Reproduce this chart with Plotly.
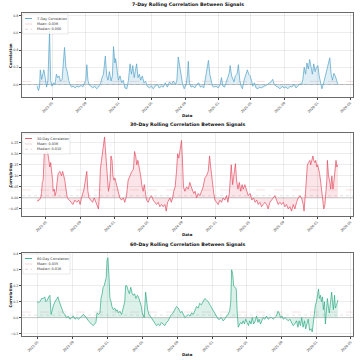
import plotly.graph_objects as go
import pandas as pd

# ---------------- data ----------------
d7_dates = ["2023-03-07","2023-03-12","2023-03-16","2023-03-19","2023-03-24","2023-03-28","2023-04-01","2023-04-06","2023-04-11","2023-04-16",
"2023-04-22","2023-04-26","2023-05-01","2023-05-07","2023-05-12","2023-05-17","2023-05-22","2023-05-27","2023-06-01","2023-06-07",
"2023-06-12","2023-06-16","2023-06-21","2023-06-26","2023-07-01","2023-07-06","2023-07-12","2023-07-18","2023-07-25","2023-08-01",
"2023-08-08","2023-08-16","2023-08-22","2023-08-28","2023-09-02","2023-09-06","2023-09-10","2023-09-14","2023-09-20","2023-09-28",
"2023-10-05","2023-10-12","2023-10-19","2023-10-27","2023-11-01","2023-11-06","2023-11-13","2023-11-18","2023-11-23","2023-11-28",
"2023-12-04","2023-12-09","2023-12-13","2023-12-18","2023-12-21","2023-12-26","2023-12-31","2024-01-06","2024-01-12","2024-01-18",
"2024-01-24","2024-01-31","2024-02-06","2024-02-12","2024-02-17","2024-02-22","2024-02-27","2024-03-02","2024-03-07","2024-03-12",
"2024-03-17","2024-03-22","2024-03-28","2024-04-03","2024-04-09","2024-04-15","2024-04-23","2024-04-30","2024-05-07","2024-05-14",
"2024-05-22","2024-05-29","2024-06-06","2024-06-13","2024-06-20","2024-06-28","2024-07-06","2024-07-13","2024-07-20","2024-07-28",
"2024-08-02","2024-08-07","2024-08-12","2024-08-17","2024-08-23","2024-08-29","2024-09-05","2024-09-10","2024-09-13","2024-09-17",
"2024-09-23","2024-09-30","2024-10-07","2024-10-14","2024-10-21","2024-10-27","2024-11-02","2024-11-09","2024-11-16","2024-11-21",
"2024-11-26","2024-12-01","2024-12-06","2024-12-11","2024-12-17","2024-12-24","2025-01-01","2025-01-08","2025-01-13","2025-01-18",
"2025-01-24","2025-01-30","2025-02-05","2025-02-10","2025-02-14","2025-02-19","2025-02-24","2025-02-28","2025-03-05","2025-03-11",
"2025-03-16","2025-03-21","2025-03-26","2025-03-31","2025-04-06","2025-04-12","2025-04-18","2025-04-23","2025-04-28","2025-05-03",
"2025-05-08","2025-05-14","2025-05-20","2025-05-27","2025-06-01","2025-06-08","2025-06-15","2025-06-23","2025-07-01","2025-07-08",
"2025-07-14","2025-07-20","2025-07-26","2025-08-02","2025-08-09","2025-08-16","2025-08-24","2025-08-31","2025-09-07","2025-09-14",
"2025-09-22","2025-09-29","2025-10-07","2025-10-14","2025-10-21","2025-10-28","2025-11-03","2025-11-08","2025-11-13","2025-11-18",
"2025-11-23","2025-11-28","2025-12-03","2025-12-08","2025-12-13","2025-12-18","2025-12-23","2025-12-28","2026-01-02","2026-01-07",
"2026-01-12","2026-01-17","2026-01-22","2026-01-27","2026-01-31","2026-02-05","2026-02-10","2026-02-15","2026-02-20","2026-02-25",
"2026-03-02","2026-03-07","2026-03-12","2026-03-17"]
d7_vals = [-0.02,-0.07,-0.03,0.17,0.06,0.12,0.17,0.08,-0.03,0.05,
0.62,0.05,-0.02,0.02,0.0,0.12,0.08,0.10,0.04,0.06,
0.25,0.43,0.20,0.15,0.05,0.0,-0.03,-0.02,-0.04,-0.02,
-0.03,-0.01,-0.03,0.02,0.05,0.23,0.05,0.0,-0.02,-0.04,
-0.02,-0.05,-0.03,0.02,0.08,0.12,0.33,0.10,0.05,0.15,
0.04,0.10,0.44,0.25,0.30,0.15,0.05,0.10,0.02,0.05,
-0.04,-0.05,0.05,0.24,0.12,0.22,0.08,0.15,0.24,0.08,
0.12,0.05,0.10,0.02,0.04,-0.02,-0.04,-0.02,-0.05,-0.02,
0.0,-0.04,-0.02,-0.03,0.02,-0.03,0.03,0.0,0.04,0.0,
0.05,0.32,0.22,0.12,0.0,-0.05,0.0,0.12,0.27,0.02,
-0.03,-0.02,-0.04,0.0,0.02,-0.03,-0.02,-0.04,0.08,0.20,
0.28,0.12,0.05,-0.02,-0.03,-0.02,-0.04,0.0,0.08,-0.02,
-0.03,0.04,0.08,0.13,0.22,0.10,0.05,0.03,0.10,0.12,
0.23,0.05,-0.02,-0.05,0.05,0.10,0.17,0.12,0.10,0.05,
-0.02,0.02,-0.04,-0.05,-0.03,-0.04,-0.03,-0.02,0.0,0.02,
0.03,0.06,0.0,-0.02,-0.03,-0.05,-0.02,-0.04,-0.03,-0.05,
-0.02,-0.03,0.0,-0.04,-0.02,0.01,0.0,0.06,0.20,0.12,
0.25,0.18,0.29,0.20,0.12,0.24,0.15,0.20,0.22,0.10,
0.03,-0.05,0.0,0.06,0.10,0.18,0.25,0.31,0.12,0.05,
0.13,0.10,0.05,0.0]

d30_dates = ["2023-03-30","2023-04-07","2023-04-12","2023-04-15","2023-04-18","2023-04-21","2023-04-25","2023-04-30","2023-05-05","2023-05-08",
"2023-05-12","2023-05-15","2023-05-18","2023-05-21","2023-05-25","2023-05-27","2023-05-31","2023-06-03","2023-06-07","2023-06-10",
"2023-06-14","2023-06-20","2023-06-26","2023-06-30","2023-07-05","2023-07-08","2023-07-12","2023-07-17","2023-07-24","2023-07-29",
"2023-08-06","2023-08-13","2023-08-20","2023-08-27","2023-09-01","2023-09-06","2023-09-11","2023-09-15","2023-09-20","2023-09-25",
"2023-09-29","2023-10-03","2023-10-09","2023-10-16","2023-10-22","2023-10-27","2023-11-01","2023-11-06","2023-11-09","2023-11-13",
"2023-11-17","2023-11-20","2023-11-24","2023-11-28","2023-12-01","2023-12-05","2023-12-08","2023-12-12","2023-12-15","2023-12-18",
"2023-12-21","2023-12-25","2023-12-28","2024-01-01","2024-01-04","2024-01-08","2024-01-12","2024-01-16","2024-01-22","2024-01-28",
"2024-02-03","2024-02-09","2024-02-15","2024-02-21","2024-02-27","2024-03-05","2024-03-11","2024-03-15","2024-03-19","2024-03-23",
"2024-03-27","2024-04-01","2024-04-06","2024-04-11","2024-04-15","2024-04-19","2024-04-23","2024-04-27","2024-05-03","2024-05-09",
"2024-05-15","2024-05-21","2024-05-27","2024-06-02","2024-06-08","2024-06-14","2024-06-20","2024-06-26","2024-07-02","2024-07-07",
"2024-07-12","2024-07-17","2024-07-20","2024-07-25","2024-07-30","2024-08-03","2024-08-08","2024-08-13","2024-08-17","2024-08-21",
"2024-08-26","2024-08-31","2024-09-03","2024-09-07","2024-09-12","2024-09-18","2024-09-24","2024-09-30","2024-10-05","2024-10-09",
"2024-10-14","2024-10-19","2024-10-24","2024-10-30","2024-11-05","2024-11-11","2024-11-17","2024-11-23","2024-11-29","2024-12-05",
"2024-12-10","2024-12-13","2024-12-17","2024-12-21","2024-12-25","2024-12-29","2025-01-04","2025-01-10","2025-01-16","2025-01-22",
"2025-01-28","2025-02-03","2025-02-09","2025-02-14","2025-02-19","2025-02-21","2025-02-26","2025-03-03","2025-03-08","2025-03-13",
"2025-03-17","2025-03-22","2025-03-27","2025-04-01","2025-04-06","2025-04-10","2025-04-16","2025-04-22","2025-04-28","2025-05-05",
"2025-05-11","2025-05-17","2025-05-23","2025-05-29","2025-06-03","2025-06-09","2025-06-15","2025-06-21","2025-06-27","2025-07-03",
"2025-07-09","2025-07-15","2025-07-21","2025-07-27","2025-08-02","2025-08-08","2025-08-14","2025-08-20","2025-08-26","2025-09-01",
"2025-09-07","2025-09-13","2025-09-19","2025-09-25","2025-10-01","2025-10-07","2025-10-13","2025-10-19","2025-10-25","2025-10-31",
"2025-11-06","2025-11-12","2025-11-15","2025-11-20","2025-11-24","2025-11-27","2025-12-01","2025-12-06","2025-12-09","2025-12-13",
"2025-12-17","2025-12-20","2025-12-24","2025-12-27","2025-12-31","2026-01-03","2026-01-07","2026-01-10","2026-01-14","2026-01-18",
"2026-01-21","2026-01-25","2026-01-29","2026-02-01","2026-02-05","2026-02-07","2026-02-11","2026-02-16","2026-02-19","2026-02-23",
"2026-02-27","2026-03-02","2026-03-06","2026-03-10","2026-03-13","2026-03-17"]
d30_vals = [-0.014,-0.01,0.0,0.02,0.07,0.08,0.20,0.205,0.21,0.20,
0.17,0.14,0.16,0.13,0.08,0.03,0.04,0.01,0.03,0.07,
0.11,0.12,0.10,0.12,0.10,0.08,0.04,0.0,-0.01,-0.02,
-0.03,-0.01,-0.02,-0.01,-0.03,0.0,0.02,0.04,0.08,0.12,
0.03,0.0,-0.01,-0.02,0.0,-0.02,-0.03,-0.05,0.0,0.13,
0.17,0.20,0.24,0.276,0.22,0.15,0.08,0.03,0.05,0.08,
0.19,0.17,0.10,0.08,0.09,0.07,0.05,0.02,0.0,-0.01,
0.0,-0.02,0.01,0.08,0.10,0.12,0.13,0.21,0.19,0.15,
0.17,0.14,0.10,0.05,0.03,0.06,0.02,-0.01,-0.02,0.0,
0.01,-0.01,-0.02,-0.03,-0.02,-0.04,-0.03,-0.04,-0.03,-0.06,
-0.02,-0.01,0.0,-0.02,0.0,0.03,0.05,0.12,0.20,0.18,
0.22,0.26,0.18,0.05,0.03,0.05,0.04,0.07,0.05,0.04,
0.02,0.03,0.0,0.02,0.01,0.03,0.05,0.09,0.10,0.12,
0.19,0.15,0.10,0.07,0.02,-0.01,-0.02,-0.03,-0.01,-0.02,
0.0,-0.01,0.01,-0.02,0.02,0.05,0.15,0.06,0.10,0.155,
0.08,0.04,0.07,0.03,0.06,0.04,0.06,0.03,0.01,0.02,
-0.01,0.0,-0.02,-0.01,-0.03,-0.02,-0.04,-0.03,-0.02,-0.03,
-0.05,-0.02,-0.01,0.0,0.01,-0.01,-0.03,-0.02,-0.03,-0.02,
-0.04,-0.03,-0.05,-0.04,-0.06,-0.03,-0.05,-0.02,0.0,0.01,
0.0,-0.03,-0.06,0.02,0.14,0.15,0.16,0.17,0.15,0.18,
0.19,0.17,0.16,0.17,0.14,0.15,0.13,0.11,0.07,0.03,
-0.02,-0.05,-0.03,0.02,0.08,0.17,0.10,0.07,0.04,0.10,
0.04,0.07,0.12,0.17,0.14,0.15]

d60_dates = ["2023-04-29","2023-05-03","2023-05-09","2023-05-15","2023-05-21","2023-05-26","2023-05-30","2023-06-04","2023-06-09","2023-06-13",
"2023-06-17","2023-06-21","2023-06-26","2023-07-01","2023-07-07","2023-07-11","2023-07-16","2023-07-21","2023-07-25","2023-07-30",
"2023-08-04","2023-08-10","2023-08-16","2023-08-22","2023-08-28","2023-09-03","2023-09-09","2023-09-15","2023-09-21","2023-09-26",
"2023-10-02","2023-10-08","2023-10-14","2023-10-20","2023-10-26","2023-10-31","2023-11-05","2023-11-11","2023-11-17","2023-11-21",
"2023-11-25","2023-12-01","2023-12-05","2023-12-09","2023-12-13","2023-12-16","2023-12-20","2023-12-23","2023-12-27","2023-12-30",
"2024-01-02","2024-01-06","2024-01-09","2024-01-13","2024-01-16","2024-01-21","2024-01-26","2024-01-30","2024-02-03","2024-02-08",
"2024-02-13","2024-02-19","2024-02-24","2024-03-01","2024-03-04","2024-03-08","2024-03-13","2024-03-17","2024-03-22","2024-03-27",
"2024-03-31","2024-04-04","2024-04-09","2024-04-14","2024-04-18","2024-04-23","2024-04-28","2024-05-01","2024-05-05","2024-05-08",
"2024-05-13","2024-05-16","2024-05-20","2024-05-25","2024-05-29","2024-06-03","2024-06-09","2024-06-15","2024-06-20","2024-06-26",
"2024-07-02","2024-07-07","2024-07-13","2024-07-19","2024-07-25","2024-07-31","2024-08-05","2024-08-11","2024-08-17","2024-08-23",
"2024-08-29","2024-09-04","2024-09-08","2024-09-12","2024-09-17","2024-09-22","2024-09-27","2024-10-03","2024-10-09","2024-10-15",
"2024-10-21","2024-10-27","2024-11-01","2024-11-07","2024-11-13","2024-11-18","2024-11-24","2024-12-01","2024-12-06","2024-12-12",
"2024-12-18","2024-12-24","2024-12-30","2025-01-04","2025-01-10","2025-01-16","2025-01-22","2025-01-27","2025-02-02","2025-02-08",
"2025-02-14","2025-02-20","2025-02-25","2025-03-03","2025-03-07","2025-03-10","2025-03-14","2025-03-17","2025-03-22","2025-03-26",
"2025-03-29","2025-04-02","2025-04-05","2025-04-10","2025-04-15","2025-04-19","2025-04-24","2025-04-28","2025-05-03","2025-05-08",
"2025-05-12","2025-05-17","2025-05-21","2025-05-26","2025-06-01","2025-06-05","2025-06-10","2025-06-14","2025-06-19","2025-06-24",
"2025-06-28","2025-07-04","2025-07-10","2025-07-16","2025-07-22","2025-07-28","2025-08-02","2025-08-08","2025-08-14","2025-08-19",
"2025-08-23","2025-08-28","2025-09-02","2025-09-07","2025-09-13","2025-09-19","2025-09-24","2025-09-30","2025-10-06","2025-10-11",
"2025-10-17","2025-10-23","2025-10-28","2025-11-01","2025-11-06","2025-11-10","2025-11-15","2025-11-20","2025-11-24","2025-11-29",
"2025-12-03","2025-12-08","2025-12-13","2025-12-17","2025-12-21","2025-12-24","2025-12-28","2026-01-01","2026-01-04","2026-01-08",
"2026-01-11","2026-01-15","2026-01-18","2026-01-22","2026-01-25","2026-01-29","2026-02-01","2026-02-05","2026-02-08","2026-02-12",
"2026-02-15","2026-02-19","2026-02-23","2026-02-26","2026-03-01","2026-03-05","2026-03-08","2026-03-12","2026-03-17"]
d60_vals = [0.10,0.095,0.10,0.12,0.12,0.13,0.10,0.11,0.13,0.14,
0.02,0.05,0.08,0.10,0.12,0.13,0.10,0.07,0.05,0.03,
0.02,0.0,0.01,-0.01,0.0,0.01,-0.01,0.0,-0.01,0.0,
0.01,0.02,0.01,-0.01,-0.02,-0.03,-0.04,-0.05,-0.04,-0.03,
0.03,0.02,0.03,0.12,0.15,0.19,0.20,0.22,0.25,0.36,
0.375,0.25,0.12,0.10,0.07,0.05,0.06,0.04,0.05,0.03,
0.04,0.02,0.05,0.10,0.20,0.20,0.17,0.15,0.19,0.15,
0.14,0.15,0.12,0.14,0.13,0.10,0.07,0.03,0.01,0.0,
0.16,0.10,0.05,0.02,0.01,-0.01,-0.02,-0.04,-0.05,-0.04,
-0.05,-0.03,-0.04,-0.05,-0.03,-0.02,0.0,0.02,0.03,0.05,
0.07,0.06,0.04,0.03,0.04,0.02,0.0,0.01,0.02,0.01,
0.03,0.02,0.05,0.07,0.06,0.09,0.08,0.10,0.12,0.11,
0.10,0.08,0.06,0.04,0.02,0.0,-0.01,-0.01,0.0,-0.02,
-0.01,0.01,0.02,0.04,0.10,0.30,0.27,0.20,0.19,0.18,
0.05,-0.06,-0.05,-0.03,-0.04,-0.02,-0.04,-0.01,-0.03,-0.05,
-0.02,-0.04,0.0,-0.04,-0.02,0.01,-0.03,-0.01,-0.04,-0.02,
0.0,-0.01,0.01,-0.01,0.0,0.0,-0.01,0.0,0.01,0.04,
0.03,0.0,0.01,-0.01,0.0,-0.01,-0.02,-0.01,-0.03,-0.05,
-0.04,-0.02,-0.06,-0.02,-0.05,0.0,-0.06,-0.02,-0.07,-0.03,
-0.01,-0.08,-0.07,-0.09,-0.02,0.02,0.08,0.10,0.13,0.18,
0.12,0.14,0.10,0.13,0.05,0.10,-0.04,0.05,0.12,0.06,
0.03,0.10,0.16,0.10,0.05,0.14,0.06,0.08,0.11]

titles = ["7-Day Rolling Correlation Between Signals",
          "30-Day Rolling Correlation Between Signals",
          "60-Day Rolling Correlation Between Signals"]
series_names = ["7-Day Correlation", "30-Day Correlation", "60-Day Correlation"]
means = [0.036, 0.036, 0.035]
medians = [0.000, 0.010, 0.016]
tick_dates = ["2023-05-01","2023-09-01","2024-01-01","2024-05-01","2024-09-01",
              "2025-01-01","2025-05-01","2025-09-01","2026-01-01","2026-05-01"]
tick_labels = ["2023-05","2023-09","2024-01","2024-05","2024-09",
               "2025-01","2025-05","2025-09","2026-01","2026-05"]
y_ticks = [[0.0, 0.2, 0.4, 0.6, 0.8],
           [-0.05, 0.0, 0.05, 0.10, 0.15, 0.20, 0.25],
           [-0.1, 0.0, 0.1, 0.2, 0.3, 0.4]]
y_tick_text = [["0.0", "0.2", "0.4", "0.6", "0.8"],
               ["−0.05", "0.00", "0.05", "0.10", "0.15", "0.20", "0.25"],
               ["−0.1", "0.0", "0.1", "0.2", "0.3", "0.4"]]
y_ranges = [[-0.145, 0.83], [-0.082, 0.294], [-0.115, 0.405]]

# ---------------- styling ----------------
line_colors = ["#52a2c8", "#e2495e", "#2aa982"]
fill_colors = ["rgba(82,162,200,0.18)", "rgba(226,73,94,0.14)", "rgba(42,169,130,0.16)"]
mean_color = "rgba(225,110,110,0.35)"
median_color = "rgba(130,130,130,0.35)"
FONT = "DejaVu Sans"

W, H = 360, 360
ML, MR, MT, MB = 22, 7, 13, 24
plot_w = W - ML - MR
plot_h = H - MT - MB
panels_px = [(13, 97), (133, 216), (253, 336)]   # top, bottom pixel rows

fig = go.Figure()
all_data = [(d7_dates, d7_vals), (d30_dates, d30_vals), (d60_dates, d60_vals)]

layout = dict(width=W, height=H, margin=dict(l=ML, r=MR, t=MT, b=MB, autoexpand=False),
              paper_bgcolor="white", plot_bgcolor="white", showlegend=False,
              font=dict(family=FONT, size=3.4, color="#222"))
shapes, annotations = [], []

for i, (dates, vals) in enumerate(all_data):
    sfx = "" if i == 0 else str(i + 1)
    xa, ya = "x" + sfx, "y" + sfx
    top, bot = panels_px[i]
    ph = bot - top
    dom = [(H - MB - bot) / plot_h, (H - MB - top) / plot_h]
    dts = pd.to_datetime(dates)
    span = dts.max() - dts.min()
    xr = [dts.min() - 0.05 * span, dts.max() + 0.05 * span]

    fig.add_trace(go.Scatter(x=dts, y=vals, mode="lines", fill="tozeroy",
                             fillcolor=fill_colors[i],
                             line=dict(color=line_colors[i], width=0.7),
                             xaxis=xa, yaxis=ya, hoverinfo="skip"))

    axis_common = dict(showline=True, mirror=True, linecolor="#6a6a6a", linewidth=0.8,
                       showgrid=True, gridcolor="rgba(0,0,0,0.07)", gridwidth=0.5,
                       zeroline=False, ticks="outside", ticklen=2, tickwidth=0.5,
                       automargin=False,
                       tickcolor="#444", tickfont=dict(family=FONT, size=3.3, color="#333"))
    layout["xaxis" + sfx] = dict(axis_common, domain=[0, 1], anchor=ya, type="date",
                                 range=xr, tickvals=pd.to_datetime(tick_dates),
                                 ticktext=tick_labels, tickangle=-45)
    layout["yaxis" + sfx] = dict(axis_common, domain=dom, anchor=xa, range=y_ranges[i],
                                 tickvals=y_ticks[i], ticktext=y_tick_text[i])

    xd, yd = xa + " domain", ya + " domain"
    # reference lines
    shapes.append(dict(type="line", xref=xd, yref=ya, x0=0, x1=1, y0=0, y1=0,
                       line=dict(color="rgba(0,0,0,0.28)", width=0.6), layer="below"))
    shapes.append(dict(type="line", xref=xd, yref=ya, x0=0, x1=1, y0=means[i], y1=means[i],
                       line=dict(color=mean_color, width=0.6, dash="dash"), layer="below"))
    shapes.append(dict(type="line", xref=xd, yref=ya, x0=0, x1=1, y0=medians[i], y1=medians[i],
                       line=dict(color=median_color, width=0.6, dash="dot"), layer="below"))

    # manual legend
    bw = 46 if i == 0 else 48
    shapes.append(dict(type="rect", xref=xd, yref=yd, x0=0.8 / plot_w, x1=bw / plot_w,
                       y0=1 - 21 / ph, y1=1 - 1 / ph,
                       line=dict(color="rgba(0,0,0,0.18)", width=0.5),
                       fillcolor="rgba(255,255,255,0.85)"))
    rows = [5.5, 11.0, 16.3]
    row_labels = [series_names[i], f"Mean: {means[i]:.3f}", f"Median: {medians[i]:.3f}"]
    row_colors = [line_colors[i], mean_color, median_color]
    row_dash = ["solid", "dash", "dot"]
    for r, lab, col, ds in zip(rows, row_labels, row_colors, row_dash):
        shapes.append(dict(type="line", xref=xd, yref=yd, x0=3 / plot_w, x1=10 / plot_w,
                           y0=1 - r / ph, y1=1 - r / ph,
                           line=dict(color=col, width=0.9, dash=ds)))
        annotations.append(dict(text=lab, xref=xd, yref=yd, x=13 / plot_w, y=1 - r / ph,
                                xanchor="left", yanchor="middle", showarrow=False,
                                font=dict(family=FONT, size=3.4, color="#333")))

    # titles
    annotations.append(dict(text="<b>" + titles[i] + "</b>", xref=xd, yref=yd, x=0.5,
                            y=1 + 8 / ph, xanchor="center", yanchor="middle", showarrow=False,
                            font=dict(family=FONT, size=4.7, color="#111")))
    annotations.append(dict(text="<b>Date</b>", xref=xd, yref=yd, x=0.5,
                            y=-18.5 / ph, xanchor="center", yanchor="middle", showarrow=False,
                            font=dict(family=FONT, size=3.9, color="#111")))
    annotations.append(dict(text="<b>Correlation</b>", xref=xd, yref=yd, x=-12 / plot_w,
                            y=0.5, xanchor="center", yanchor="middle", showarrow=False,
                            textangle=-90, font=dict(family=FONT, size=3.9, color="#111")))

layout["shapes"] = shapes
layout["annotations"] = annotations
fig.update_layout(**layout)
fig.write_html("out.html", config={"displayModeBar": False},
               post_script="document.body.style.margin='0';document.body.style.overflow='hidden';")
